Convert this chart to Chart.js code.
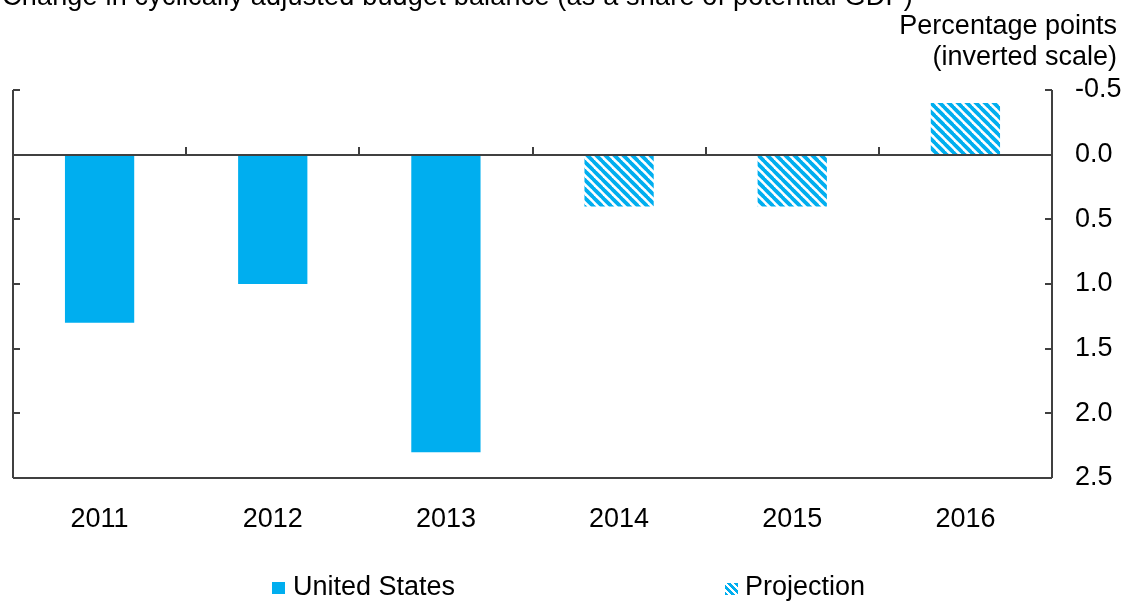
<!DOCTYPE html>
<html>
<head>
<meta charset="utf-8">
<script src="https://cdn.jsdelivr.net/npm/chart.js@4/dist/chart.umd.min.js"></script>
<style>
  html, body { margin: 0; padding: 0; background: #fff; }
  body { width: 1125px; height: 601px; position: relative; overflow: hidden;
         font-family: "Liberation Sans", Arial, sans-serif; color: #000; }
  #wrap { position: absolute; left: 0; top: 0; width: 1125px; height: 601px; }
  .txt { position: absolute; font-size: 27px; line-height: 31px; white-space: nowrap; }
  #title { left: 2px; top: -19px; letter-spacing: 0.2px; }
  #unit { right: 8px; top: 10px; text-align: right; }
  .sw { position: absolute; width: 13px; height: 12px; }
  #sw1 { left: 272px; top: 582px; background: #00AEEF; }
  #sw2 { left: 725px; top: 583px;
         background: repeating-linear-gradient(45deg, #00AEEF 0 2.8px, #fff 2.8px 4.8px); }
  #lg1 { left: 293px; top: 571px; }
  #lg2 { left: 745px; top: 571px; }
</style>
</head>
<body>
<div id="wrap"><canvas id="c" width="1125" height="601"></canvas></div>
<div class="txt" id="title">Change in cyclically adjusted budget balance (as a share of potential GDP)</div>
<div class="txt" id="unit">Percentage points<br>(inverted scale)</div>
<div class="sw" id="sw1"></div><div class="txt" id="lg1">United States</div>
<div class="sw" id="sw2"></div><div class="txt" id="lg2">Projection</div>
<script>
const categories = ["2011", "2012", "2013", "2014", "2015", "2016"];
const unitedStates = [1.3, 1.0, 2.3, null, null, null];
const projection = [null, null, null, 0.4, 0.4, -0.4];
const yTicks = [-0.5, 0.0, 0.5, 1.0, 1.5, 2.0, 2.5];
const seriesNames = ["United States", "Projection"];

const BLUE = "#00AEEF";
const AXIS = "#404040";

function makeStripes() {
  const p = 9;
  const cv = document.createElement("canvas");
  cv.width = p; cv.height = p;
  const g = cv.getContext("2d");
  g.fillStyle = "#fff"; g.fillRect(0, 0, p, p);
  g.strokeStyle = BLUE; g.lineWidth = 3.8;
  for (const k of [-p, 0, p]) {
    g.beginPath(); g.moveTo(k - 1, -1); g.lineTo(k + p + 1, p + 1); g.stroke();
  }
  return g.createPattern(cv, "repeat");
}

const axesPlugin = {
  id: "axesPlugin",
  afterDatasetsDraw(chart) {
    const { ctx, chartArea: a, scales: { x, y } } = chart;
    ctx.save();
    ctx.strokeStyle = AXIS;
    ctx.lineWidth = 2;
    const tl = 7;
    ctx.beginPath();
    ctx.moveTo(a.left, a.top); ctx.lineTo(a.left, a.bottom);
    ctx.moveTo(a.right, a.top); ctx.lineTo(a.right, a.bottom);
    ctx.moveTo(a.left, a.bottom); ctx.lineTo(a.right, a.bottom);
    ctx.stroke();
    ctx.beginPath();
    for (const v of yTicks) {
      const py = Math.round(y.getPixelForValue(v));
      ctx.moveTo(a.left, py); ctx.lineTo(a.left + tl, py);
      ctx.moveTo(a.right, py); ctx.lineTo(a.right - tl, py);
    }
    ctx.stroke();
    const y0 = Math.round(y.getPixelForValue(0));
    ctx.beginPath();
    ctx.moveTo(a.left, y0); ctx.lineTo(a.right, y0);
    ctx.stroke();
    const step = x.getPixelForValue(1) - x.getPixelForValue(0);
    ctx.beginPath();
    for (let i = 1; i < categories.length; i++) {
      const px = Math.round(x.getPixelForValue(i) - step / 2);
      ctx.moveTo(px, y0); ctx.lineTo(px, y0 - 8);
    }
    ctx.stroke();
    ctx.restore();
  }
};

const stripes = makeStripes();
const font = { family: "'Liberation Sans', Arial, sans-serif", size: 27 };

new Chart(document.getElementById("c"), {
  type: "bar",
  data: {
    labels: categories,
    datasets: [
      { label: seriesNames[0], data: unitedStates, backgroundColor: BLUE, borderWidth: 0 },
      { label: seriesNames[1], data: projection, backgroundColor: stripes, borderWidth: 0 }
    ]
  },
  options: {
    responsive: false,
    animation: false,
    devicePixelRatio: 1,
    skipNull: true,
    categoryPercentage: 0.4,
    barPercentage: 1.0,
    layout: { padding: { top: 90, left: 13, right: 0, bottom: 0 } },
    plugins: { legend: { display: false }, tooltip: { enabled: false }, title: { display: false } },
    scales: {
      x: {
        grid: { display: false, drawTicks: false },
        border: { display: false },
        ticks: { font, color: "#000", padding: 25, maxRotation: 0 },
        afterFit(s) { s.height = 601 - 478; }
      },
      y: {
        position: "right",
        reverse: true,
        min: -0.5, max: 2.5,
        grid: { display: false, drawTicks: false },
        border: { display: false },
        afterBuildTicks(s) { s.ticks = yTicks.map(v => ({ value: v })); },
        ticks: { font, color: "#000", padding: 23, callback: v => v.toFixed(1) },
        afterFit(s) { s.width = 1125 - 1052; }
      }
    }
  },
  plugins: [axesPlugin]
});
</script>
</body>
</html>
